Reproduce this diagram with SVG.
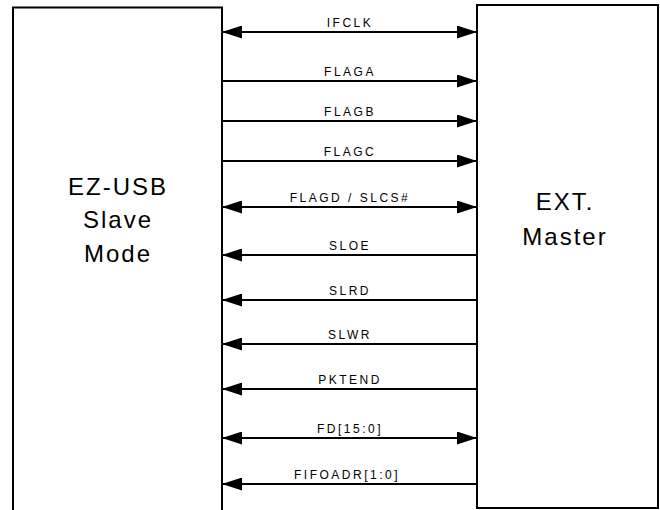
<svg xmlns="http://www.w3.org/2000/svg" width="660" height="510" viewBox="0 0 660 510">
<style>
.box{fill:#fff;stroke:#000;stroke-width:2}
.big{font-family:"Liberation Sans",Arial,sans-serif;font-size:24px;letter-spacing:2px;text-anchor:middle;fill:#000}
.lbl{font-family:"Liberation Sans",Arial,sans-serif;font-size:12px;letter-spacing:2.5px;text-anchor:middle;fill:#000}
.w{stroke:#000;stroke-width:2;fill:none}
.r{marker-end:url(#ah)}
.b{marker-start:url(#ah);marker-end:url(#ah)}
</style>
<defs>
<marker id="ah" markerUnits="userSpaceOnUse" markerWidth="20" markerHeight="13" refX="20" refY="6.5" orient="auto-start-reverse" viewBox="0 0 20 13">
<path d="M0,0 L20,6.5 L0,13 z" fill="#000"/>
</marker>
</defs>
<rect width="660" height="510" fill="#fff"/>
<g id="ezusb">
<rect class="box" x="13" y="7.5" width="209" height="506"/>
<text class="big" x="118" y="195">EZ-USB</text>
<text class="big" x="118" y="228">Slave</text>
<text class="big" x="118" y="262">Mode</text>
</g>
<g id="extmaster">
<rect class="box" x="477" y="5" width="181" height="503"/>
<text class="big" x="565" y="210">EXT.</text>
<text class="big" x="565" y="245">Master</text>
</g>
<g id="connectors">
<line class="w b" x1="222" y1="32" x2="477" y2="32"/>
<line class="w r" x1="222" y1="81" x2="477" y2="81"/>
<line class="w r" x1="222" y1="121" x2="477" y2="121"/>
<line class="w r" x1="222" y1="161" x2="477" y2="161"/>
<line class="w b" x1="222" y1="207" x2="477" y2="207"/>
<line class="w r" x1="477" y1="255" x2="222" y2="255"/>
<line class="w r" x1="477" y1="300" x2="222" y2="300"/>
<line class="w r" x1="477" y1="344" x2="222" y2="344"/>
<line class="w r" x1="477" y1="389" x2="222" y2="389"/>
<line class="w b" x1="222" y1="438" x2="477" y2="438"/>
<line class="w r" x1="477" y1="484" x2="222" y2="484"/>
</g>
<g id="labels">
<text class="lbl" x="350" y="27">IFCLK</text>
<text class="lbl" x="350" y="76">FLAGA</text>
<text class="lbl" x="350" y="116">FLAGB</text>
<text class="lbl" x="350" y="156">FLAGC</text>
<text class="lbl" x="350" y="202">FLAGD /  SLCS#</text>
<text class="lbl" x="350" y="250">SLOE</text>
<text class="lbl" x="350" y="295">SLRD</text>
<text class="lbl" x="350" y="339">SLWR</text>
<text class="lbl" x="350" y="384">PKTEND</text>
<text class="lbl" x="350" y="433">FD[15:0]</text>
<text class="lbl" x="347" y="479">FIFOADR[1:0]</text>
</g>
</svg>
